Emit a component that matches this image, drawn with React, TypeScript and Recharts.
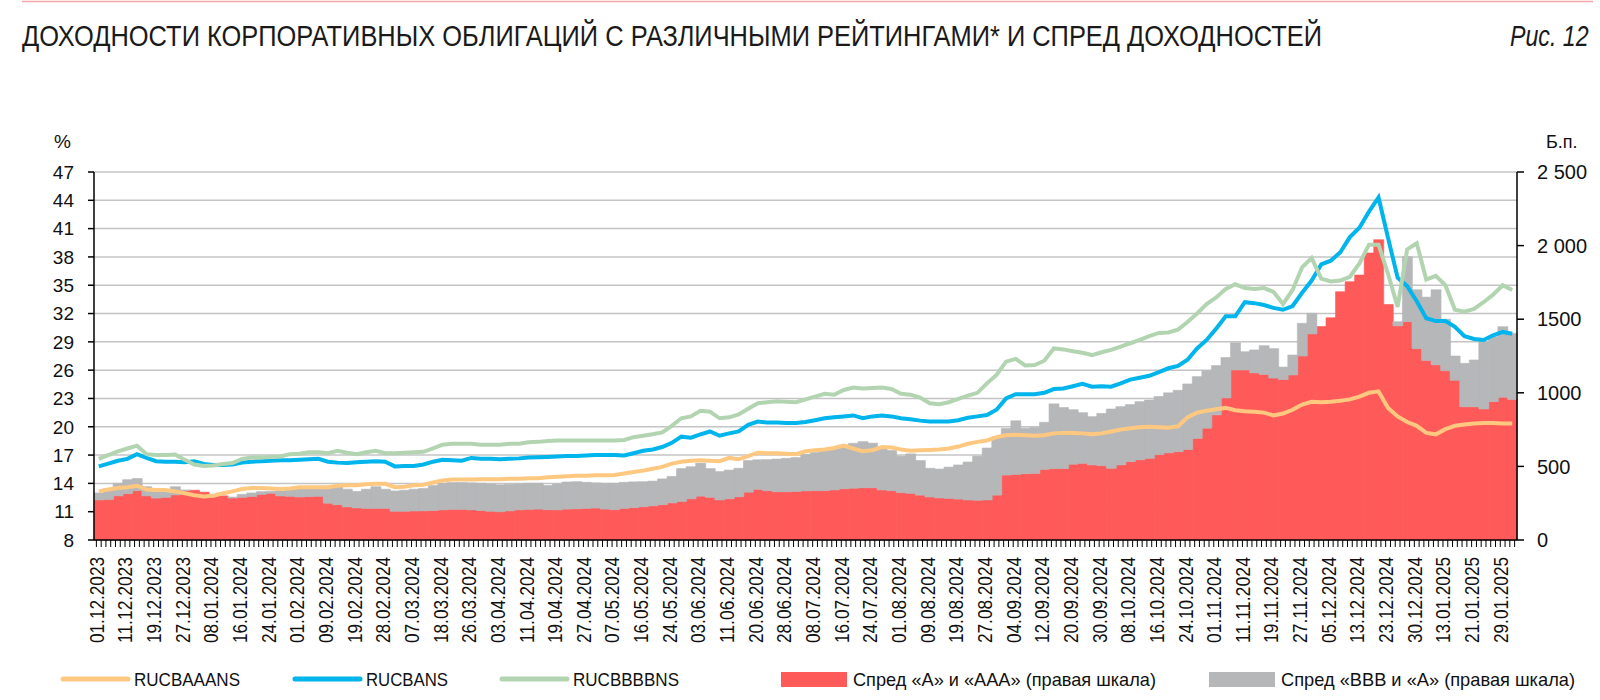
import React from 'react';
import { ComposedChart, Bar, Line, XAxis, YAxis, CartesianGrid } from 'recharts';

const FONT = "'Liberation Sans', Arial, sans-serif";

const tickDates = [
  '01.12.2023', '11.12.2023', '19.12.2023', '27.12.2023', '08.01.2024', '16.01.2024', '24.01.2024',
  '01.02.2024', '09.02.2024', '19.02.2024', '28.02.2024', '07.03.2024', '18.03.2024', '26.03.2024',
  '03.04.2024', '11.04.2024', '19.04.2024', '27.04.2024', '07.05.2024', '16.05.2024', '24.05.2024',
  '03.06.2024', '11.06.2024', '20.06.2024', '28.06.2024', '08.07.2024', '16.07.2024', '24.07.2024',
  '01.08.2024', '09.08.2024', '19.08.2024', '27.08.2024', '04.09.2024', '12.09.2024', '20.09.2024',
  '30.09.2024', '08.10.2024', '16.10.2024', '24.10.2024', '01.11.2024', '11.11.2024', '19.11.2024',
  '27.11.2024', '05.12.2024', '13.12.2024', '23.12.2024', '30.12.2024', '13.01.2025', '21.01.2025',
  '29.01.2025',
];

// RUCBAAANS, %
const aaaYield = [
  13.15, 13.35, 13.5, 13.6, 13.75,
  13.35, 13.3, 13.3, 13.15, 12.95, 12.75, 12.6, 12.7, 12.95, 13.15,
  13.4, 13.5, 13.5, 13.45, 13.4, 13.45, 13.6, 13.6, 13.6, 13.6,
  13.75, 13.8, 13.8, 13.9, 13.95, 13.95, 13.6, 13.65, 13.8, 13.85,
  14.1, 14.3, 14.4, 14.4, 14.4, 14.45, 14.45, 14.45, 14.5, 14.5,
  14.55, 14.55, 14.65, 14.7, 14.75, 14.8, 14.8, 14.85, 14.85, 14.9,
  15.05, 15.2, 15.35, 15.55, 15.75, 16.1, 16.3, 16.4, 16.45, 16.4,
  16.35, 16.7, 16.55, 16.9, 17.25, 17.2, 17.2, 17.15, 17.1, 17.4,
  17.5, 17.6, 17.75, 18.0, 17.7, 17.4, 17.5, 17.85, 17.8, 17.6,
  17.45, 17.5, 17.55, 17.6, 17.7, 17.9, 18.2, 18.4, 18.55, 18.9,
  19.1, 19.15, 19.1, 19.05, 19.1, 19.3, 19.35, 19.35, 19.3, 19.2,
  19.3, 19.5, 19.7, 19.85, 19.95, 20.0, 19.95, 19.9, 20.05, 21.0,
  21.5, 21.7, 21.85, 22.0, 21.75, 21.65, 21.6, 21.5, 21.2, 21.4,
  21.8, 22.35, 22.65, 22.6, 22.65, 22.75, 22.9, 23.2, 23.6, 23.75,
  22.0, 21.1, 20.5, 20.1, 19.35, 19.2, 19.75, 20.1, 20.25, 20.35,
  20.4, 20.4, 20.35, 20.35,
];

// RUCBANS, %
const aYield = [
  15.8, 16.1, 16.4, 16.6, 17.1,
  16.7, 16.35, 16.3, 16.3, 16.25, 16.35, 16.05, 15.95, 15.95, 16.0,
  16.2, 16.3, 16.35, 16.4, 16.45, 16.45, 16.5, 16.55, 16.6, 16.3,
  16.2, 16.15, 16.25, 16.3, 16.35, 16.3, 15.8, 15.85, 15.85, 16.0,
  16.3, 16.5, 16.45, 16.4, 16.7, 16.6, 16.6, 16.55, 16.6, 16.65,
  16.75, 16.77, 16.8, 16.85, 16.9, 16.9, 16.95, 17.0, 17.0, 17.0,
  16.95, 17.2, 17.45, 17.6, 17.85, 18.3, 18.95, 18.85, 19.2, 19.5,
  19.05, 19.3, 19.5, 20.2, 20.55, 20.45, 20.45, 20.4, 20.4, 20.5,
  20.7, 20.9, 21.0, 21.1, 21.2, 20.9, 21.1, 21.2, 21.1, 20.9,
  20.8, 20.65, 20.55, 20.55, 20.55, 20.7, 20.95, 21.1, 21.25, 21.8,
  23.0, 23.45, 23.45, 23.45, 23.6, 24.0, 24.05, 24.3, 24.55, 24.25,
  24.3, 24.25, 24.6, 25.0, 25.2, 25.4, 25.8, 26.2, 26.45, 27.1,
  28.3, 29.2, 30.4, 31.7, 31.7, 33.2, 33.1, 32.9, 32.6, 32.4,
  32.8, 34.2, 35.5, 37.2, 37.6, 38.5, 40.1, 41.1, 42.8, 44.3,
  40.0, 35.8, 34.9, 33.3, 31.5, 31.2, 31.2, 30.6, 29.6, 29.3,
  29.2, 29.7, 30.05, 29.85,
];

// RUCBBBBNS, %
const bbbYield = [
  16.6, 17.0, 17.4, 17.7, 18.0,
  17.1, 17.0, 17.0, 17.05, 16.5, 16.0, 15.85, 15.9, 16.05, 16.15,
  16.6, 16.75, 16.75, 16.8, 16.85, 17.1, 17.15, 17.3, 17.3, 17.2,
  17.45, 17.25, 17.1, 17.3, 17.45, 17.2, 17.2, 17.25, 17.3, 17.35,
  17.7, 18.1, 18.2, 18.2, 18.2, 18.1, 18.1, 18.1, 18.2, 18.2,
  18.35, 18.4, 18.5, 18.55, 18.55, 18.55, 18.55, 18.55, 18.55, 18.55,
  18.6, 18.9, 19.05, 19.2, 19.4, 20.1, 20.9, 21.1, 21.7, 21.6,
  20.9, 21.0, 21.3, 21.9, 22.5, 22.6, 22.7, 22.65, 22.6, 22.9,
  23.2, 23.5, 23.4, 23.9, 24.15, 24.05, 24.1, 24.15, 24.0, 23.5,
  23.4, 23.1, 22.5, 22.4, 22.6, 22.95, 23.3, 23.6, 24.6, 25.5,
  26.9, 27.2, 26.5, 26.55, 27.0, 28.3, 28.2, 28.0, 27.85, 27.6,
  27.9, 28.15, 28.5, 28.85, 29.2, 29.6, 29.95, 30.0, 30.3, 31.1,
  32.0, 33.0, 33.7, 34.6, 35.1, 34.7, 34.6, 34.7, 34.3, 33.0,
  34.5, 36.9, 37.9, 35.7, 35.4, 35.5, 35.9, 37.3, 39.3, 39.3,
  36.2, 32.7, 38.8, 39.45, 35.6, 36.0, 35.0, 32.4, 32.2, 32.5,
  33.2, 34.0, 35.0, 34.5,
];

// spread "A" vs "AAA", b.p.
const spreadA = [
  272, 275, 300, 315, 335,
  300, 285, 290, 306, 335, 338, 325, 310, 300, 285,
  290, 295, 310, 317, 300, 297, 292, 295, 297, 250,
  240, 225, 218, 215, 215, 215, 195, 195, 197, 198,
  200, 205, 208, 208, 205, 200, 195, 192, 198, 205,
  208, 210, 206, 205, 210, 212, 215, 217, 210, 206,
  215, 220, 226, 232, 240, 252, 262, 280, 298, 290,
  272, 280, 294, 325, 344, 335, 328, 328, 330, 334,
  335, 335, 340, 348, 352, 355, 355, 340, 335, 322,
  317, 305, 292, 286, 283, 278, 272, 270, 272, 305,
  441, 445, 450, 452, 480, 485, 485, 515, 521, 510,
  505, 487, 510, 532, 545, 555, 580, 592, 600, 615,
  690, 760, 850, 965, 1155, 1155, 1135, 1125, 1100, 1090,
  1121, 1250, 1400, 1450, 1510, 1687, 1755, 1800, 1950, 2040,
  1600, 1455, 1483, 1300, 1220, 1190, 1150, 1085, 905, 905,
  890, 940, 970, 955,
];

// spread "BBB" vs "A", b.p. (stacked on top)
const spreadBBB = [
  48, 75, 85, 95, 83,
  62, 65, 50, 56, 5, 0, 0, 0, 0, 7,
  20, 25, 18, 13, 33, 43, 58, 65, 65, 115,
  122, 120, 112, 130, 147, 130, 138, 143, 148, 152,
  170, 180, 182, 182, 183, 185, 185, 183, 180, 175,
  177, 175, 164, 175, 184, 184, 177, 171, 175, 179,
  177, 175, 170, 168, 175, 180, 223, 218, 224, 195,
  193, 195, 193, 215, 201, 211, 222, 227, 230, 248,
  260, 270, 285, 297, 305, 313, 303, 280, 273, 248,
  268, 235, 195, 196, 212, 232, 258, 300, 353, 395,
  317, 365, 310, 313, 320, 440, 415, 370, 344, 328,
  355, 403, 396, 388, 395, 396, 395, 408, 417, 445,
  420, 390, 335, 275, 185, 124, 156, 195, 200, 85,
  136, 222, 140, 0, 0, 0, 0, 0, 0, 0,
  0, 28, 442, 400, 430, 510, 350, 165, 295, 318,
  457, 441, 479, 449,
];

const leftTicks = [8, 11, 14, 17, 20, 23, 26, 29, 32, 35, 38, 41, 44, 47];
const rightTicks = [0, 500, 1000, 1500, 2000, 2500];

const COLORS = {
  aaa: '#FFC880',
  a: '#00B4EC',
  bbb: '#B3D4B1',
  spreadA: '#FF5A5A',
  spreadBBB: '#B6B7B9',
};

const data = aYield.map((_, i) => ({
  idx: i,
  aaa: aaaYield[i],
  a: aYield[i],
  bbb: bbbYield[i],
  spreadA: spreadA[i],
  spreadBBB: spreadBBB[i],
}));

const formatBp = (v: number) =>
  v >= 2000 ? `${Math.floor(v / 1000)} ${String(v % 1000).padStart(3, '0')}` : String(v);

const DateTick = (props: any) => {
  const { x, y, payload } = props;
  const i = Number(payload.value);
  const label = i % 3 === 0 ? tickDates[i / 3] : undefined;
  return (
    <g>
      <line x1={x - 2.4} x2={x - 2.4} y1={y} y2={y + 7} stroke="#000" strokeWidth={1} />
      <line x1={x + 2.4} x2={x + 2.4} y1={y} y2={y + 7} stroke="#000" strokeWidth={1} />
      {label && (
        <text
          transform={`translate(${x + 5},${y + 17}) rotate(-90)`}
          textAnchor="end"
          fontSize={20}
          fontFamily={FONT}
          fill="#111"
          textLength={86}
          lengthAdjust="spacingAndGlyphs"
        >
          {label}
        </text>
      )}
    </g>
  );
};

const LegendLine = ({ x, w, color, label }: { x: number; w: number; color: string; label: string }) => (
  <g>
    <line x1={x} x2={x + 65} y1={679} y2={679} stroke={color} strokeWidth={5} strokeLinecap="round" />
    <text x={x + 71} y={686} fontSize={19} fontFamily={FONT} fill="#111" textLength={w} lengthAdjust="spacingAndGlyphs">
      {label}
    </text>
  </g>
);

const LegendBox = ({ x, w, color, label }: { x: number; w: number; color: string; label: string }) => (
  <g>
    <rect x={x} y={672} width={66} height={15} fill={color} />
    <text x={x + 72} y={686} fontSize={19} fontFamily={FONT} fill="#111" textLength={w} lengthAdjust="spacingAndGlyphs">
      {label}
    </text>
  </g>
);

export default function App() {
  return (
    <div style={{ position: 'absolute', left: 0, top: 0, width: 1600, height: 700, background: '#fff' }}>
      <ComposedChart
        width={1600}
        height={700}
        data={data}
        margin={{ top: 172, right: 0, bottom: 0, left: 0 }}
        barCategoryGap={0}
        barGap={0}
      >
        <CartesianGrid vertical={false} yAxisId="left" stroke="#c4c4c4" strokeWidth={1.5} />
        <XAxis
          dataKey="idx"
          interval={0}
          height={160}
          tickSize={0}
          tickMargin={0}
          tickLine={false}
          axisLine={{ stroke: '#000', strokeWidth: 1.5 }}
          tick={DateTick}
        />
        <YAxis
          yAxisId="left"
          domain={[8, 47]}
          ticks={leftTicks}
          interval={0}
          width={94}
          tickSize={6}
          tickMargin={14}
          axisLine={{ stroke: '#000', strokeWidth: 1.5 }}
          tickLine={{ stroke: '#000', strokeWidth: 1.5 }}
          tick={{ fontSize: 19, fill: '#111', fontFamily: FONT }}
        />
        <YAxis
          yAxisId="right"
          orientation="right"
          domain={[0, 2500]}
          ticks={rightTicks}
          interval={0}
          width={83}
          tickSize={7}
          tickMargin={13}
          tickFormatter={formatBp}
          axisLine={{ stroke: '#000', strokeWidth: 1.5 }}
          tickLine={{ stroke: '#000', strokeWidth: 1.5 }}
          tick={{ fontSize: 20, fill: '#111', fontFamily: FONT, textAnchor: 'start' }}
        />
        <Bar yAxisId="right" dataKey="spreadA" stackId="s" fill={COLORS.spreadA} stroke={COLORS.spreadA} strokeWidth={0.6} isAnimationActive={false} />
        <Bar yAxisId="right" dataKey="spreadBBB" stackId="s" fill={COLORS.spreadBBB} stroke={COLORS.spreadBBB} strokeWidth={0.6} isAnimationActive={false} />
        <Line yAxisId="left" type="linear" dataKey="aaa" stroke={COLORS.aaa} strokeWidth={4} dot={false} isAnimationActive={false} />
        <Line yAxisId="left" type="linear" dataKey="a" stroke={COLORS.a} strokeWidth={4} dot={false} isAnimationActive={false} />
        <Line yAxisId="left" type="linear" dataKey="bbb" stroke={COLORS.bbb} strokeWidth={4} dot={false} isAnimationActive={false} />
      </ComposedChart>

      <svg width={1600} height={700} style={{ position: 'absolute', left: 0, top: 0, pointerEvents: 'none' }}>
        <line x1={22} x2={1593} y1={1.5} y2={1.5} stroke="#f3a6a6" strokeWidth={1.5} />
        <text x={22} y={46} fontSize={29} fontFamily={FONT} fill="#1a1a1a" textLength={1300} lengthAdjust="spacingAndGlyphs">
          ДОХОДНОСТИ КОРПОРАТИВНЫХ ОБЛИГАЦИЙ С РАЗЛИЧНЫМИ РЕЙТИНГАМИ* И СПРЕД ДОХОДНОСТЕЙ
        </text>
        <g transform="translate(1510,46) scale(0.8,1)">
          <text x={0} y={0} fontSize={29} fontFamily={FONT} fontStyle="italic" fill="#1a1a1a">
            Рис. 12
          </text>
        </g>
        <text x={54} y={148} fontSize={19} fontFamily={FONT} fill="#111">%</text>
        <text x={1546} y={148} fontSize={18} fontFamily={FONT} fill="#111">Б.п.</text>

        <LegendLine x={63} w={106} color={COLORS.aaa} label="RUCBAAANS" />
        <LegendLine x={295} w={82} color={COLORS.a} label="RUCBANS" />
        <LegendLine x={502} w={106} color={COLORS.bbb} label="RUCBBBBNS" />
        <LegendBox x={781} w={303} color={COLORS.spreadA} label="Спред «А» и «ААА» (правая шкала)" />
        <LegendBox x={1209} w={294} color={COLORS.spreadBBB} label="Спред «ВВВ и «А» (правая шкала)" />
      </svg>
    </div>
  );
}
